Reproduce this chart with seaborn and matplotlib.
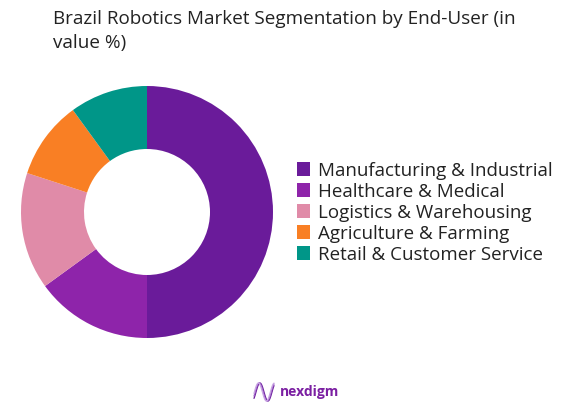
import numpy as np
import matplotlib.pyplot as plt
import seaborn as sns

sns.set_theme(style="white")
plt.rcParams["font.family"] = ["Open Sans", "DejaVu Sans"]

# Data
segments = [
    "Manufacturing & Industrial",
    "Healthcare & Medical",
    "Logistics & Warehousing",
    "Agriculture & Farming",
    "Retail & Customer Service",
]
shares = [50, 15, 15, 10, 10]
colors = ["#6a1b9a", "#8e24aa", "#e08ba8", "#f97f24", "#009688"]
title = "Brazil Robotics Market Segmentation by End-User (in\nvalue %)"
text_color = "#222222"

palette = sns.color_palette(colors)

fig = plt.figure(figsize=(5.75, 4.06), dpi=100)

# Donut
ax = fig.add_axes([21 / 575, 1 - 339 / 406, 252 / 575, 252 / 406])
wedges, _ = ax.pie(
    shares,
    colors=palette,
    startangle=90,
    counterclock=False,
    radius=1,
    wedgeprops={"width": 0.5, "linewidth": 0},
)
ax.set_xlim(-1, 1)
ax.set_ylim(-1, 1)

# Legend
fig.legend(
    wedges,
    segments,
    loc="center left",
    bbox_to_anchor=(297 / 575, 1 - 213.5 / 406),
    frameon=False,
    fontsize=13.5,
    labelcolor=text_color,
    handlelength=0.7,
    handleheight=0.7,
    handletextpad=0.4,
    labelspacing=0.16,
    borderpad=0,
    borderaxespad=0,
)

# Title
fig.text(53 / 575, 1 - 10.5 / 406, title, ha="left", va="top", fontsize=13.6,
         color=text_color, linespacing=1.4)

# Logo
logo = fig.add_axes([253 / 575, 1 - 403 / 406, 22 / 575, 20 / 406])
t = np.linspace(0, 1, 60)
for shift, col in zip([0, 0.05, 0.1], ["#6a1b9a", "#9c5fc7", "#c9a5e3"]):
    logo.plot(t, 0.5 + 0.45 * np.sin(2 * np.pi * (1.25 * t - 0.125 + shift)), color=col, lw=0.9)
logo.set_xlim(-0.05, 1.05)
logo.set_ylim(0, 1)
logo.axis("off")
fig.text(280 / 575, 1 - 392 / 406, "nexdigm", ha="left", va="center", fontsize=10,
         fontweight="bold", color="#7b1fa2")

fig.savefig("out.png", dpi=100)
plt.close(fig)
